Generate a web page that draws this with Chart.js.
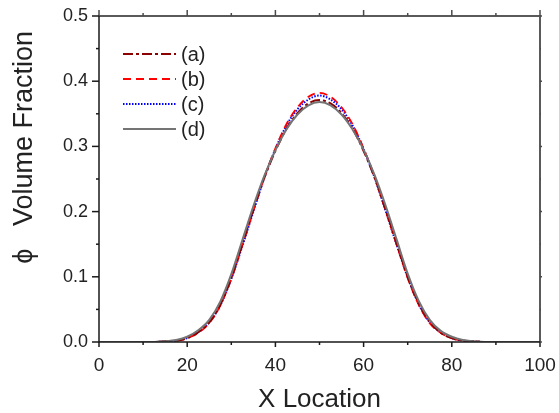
<!DOCTYPE html>
<html lang="en">
<head>
  <meta charset="UTF-8">
  <title>Volume Fraction vs X Location</title>
  <script src="https://cdn.jsdelivr.net/npm/chart.js"></script>
  <style>
    html, body {
      margin: 0;
      padding: 0;
      background: #ffffff;
    }
    .chart-container {
      position: relative;
      width: 559px;
      height: 413px;
    }
  </style>
</head>
<body>

<div class="chart-container"><canvas id="phiChart"></canvas></div>

<script>
  // x positions (shared by all four profiles)
  const xLoc = [0, 2.5, 5, 7.5, 10, 12.5, 15, 17.5, 20, 22.5, 25, 27.5, 30, 32.5, 35, 37.5, 40, 42.5, 45, 47.5,
                50, 52.5, 55, 57.5, 60, 62.5, 65, 67.5, 70, 72.5, 75, 77.5, 80, 82.5, 85, 87.5, 90, 92.5, 95, 97.5, 100];

  // volume fraction
  const phiA = [0, 0, 0, 0, 0, 0, 0.001, 0.002, 0.006, 0.015, 0.030, 0.057, 0.098, 0.150, 0.203, 0.252, 0.293, 0.327, 0.351, 0.366,
                0.371, 0.366, 0.351, 0.327, 0.293, 0.252, 0.203, 0.151, 0.100, 0.059, 0.031, 0.014, 0.006, 0.002, 0.001, 0, 0, 0, 0, 0, 0];
  const phiB = [0, 0, 0, 0, 0, 0, 0.001, 0.002, 0.006, 0.014, 0.029, 0.056, 0.097, 0.148, 0.201, 0.253, 0.297, 0.334, 0.360, 0.376,
                0.382, 0.376, 0.360, 0.334, 0.297, 0.253, 0.201, 0.149, 0.098, 0.057, 0.029, 0.014, 0.006, 0.002, 0.001, 0, 0, 0, 0, 0, 0];
  const phiC = [0, 0, 0, 0, 0, 0, 0.001, 0.002, 0.006, 0.015, 0.030, 0.056, 0.097, 0.147, 0.200, 0.252, 0.296, 0.332, 0.357, 0.372,
                0.378, 0.372, 0.357, 0.332, 0.296, 0.252, 0.201, 0.149, 0.099, 0.058, 0.030, 0.015, 0.006, 0.002, 0.001, 0, 0, 0, 0, 0, 0];
  const phiD = [0, 0, 0, 0, 0, 0, 0.001, 0.003, 0.008, 0.018, 0.034, 0.062, 0.104, 0.156, 0.208, 0.255, 0.294, 0.326, 0.349, 0.363,
                0.368, 0.363, 0.349, 0.326, 0.295, 0.256, 0.209, 0.157, 0.105, 0.063, 0.034, 0.017, 0.008, 0.003, 0.001, 0, 0, 0, 0, 0, 0];

  const seriesLabels = ['(a)', '(b)', '(c)', '(d)'];
  const xTicks = [0, 20, 40, 60, 80, 100];
  const yTicks = [0.0, 0.1, 0.2, 0.3, 0.4, 0.5];

  const FONT = "'Liberation Sans', Arial, Helvetica, sans-serif";
  const toPoints = ys => xLoc.map((x, i) => ({ x, y: ys[i] }));

  // frame, inner/outer ticks and the line legend
  const framePlugin = {
    id: 'frame',
    afterDraw(chart) {
      const { ctx, chartArea: a, scales } = chart;
      const xs = scales.x, ys = scales.y;
      ctx.save();

      // top and right borders (grey)
      ctx.strokeStyle = '#5a5a5a';
      ctx.lineWidth = 2;
      ctx.beginPath();
      ctx.moveTo(a.left, a.top);
      ctx.lineTo(a.right, a.top);
      ctx.lineTo(a.right, a.bottom);
      ctx.stroke();

      // left and bottom axes (black)
      ctx.strokeStyle = '#1a1a1a';
      ctx.lineWidth = 1.5;
      ctx.beginPath();
      ctx.moveTo(a.left, a.top);
      ctx.lineTo(a.left, a.bottom);
      ctx.lineTo(a.right, a.bottom);
      ctx.stroke();

      // x ticks every 10, major every 20
      ctx.lineWidth = 1.5;
      for (let v = 0; v <= 100; v += 10) {
        const px = xs.getPixelForValue(v);
        const major = v % 20 === 0;
        ctx.strokeStyle = '#1a1a1a';
        ctx.beginPath();
        ctx.moveTo(px, a.bottom);
        ctx.lineTo(px, a.bottom + (major ? 5 : 3));
        ctx.stroke();
        ctx.strokeStyle = '#4a4a4a';
        ctx.beginPath();
        ctx.moveTo(px, a.top);
        ctx.lineTo(px, a.top - (major ? 6 : 3));
        ctx.stroke();
      }

      // y ticks every 0.05, major every 0.1
      for (let k = 0; k <= 10; k++) {
        const py = ys.getPixelForValue(k * 0.05);
        const major = k % 2 === 0;
        ctx.strokeStyle = '#1a1a1a';
        ctx.beginPath();
        ctx.moveTo(a.left, py);
        ctx.lineTo(a.left - (major ? 7 : 3), py);
        ctx.stroke();
        ctx.strokeStyle = '#4a4a4a';
        ctx.beginPath();
        ctx.moveTo(a.right, py);
        ctx.lineTo(a.right + (major ? 2 : 1), py);
        ctx.stroke();
      }

      // legend with line samples
      const lx0 = 123, lx1 = 176, rowY = [54, 79, 104, 129];
      chart.data.datasets.forEach((ds, i) => {
        const y = rowY[i];
        ctx.strokeStyle = ds.borderColor;
        ctx.lineWidth = ds.borderWidth;
        ctx.setLineDash(ds.borderDash || []);
        ctx.beginPath();
        ctx.moveTo(lx0, y);
        ctx.lineTo(lx1, y);
        ctx.stroke();
        ctx.setLineDash([]);
        ctx.fillStyle = '#222';
        ctx.font = '20px ' + FONT;
        ctx.textAlign = 'left';
        ctx.textBaseline = 'middle';
        ctx.fillText(ds.label, 181, y + 1);
      });

      ctx.restore();
    }
  };

  const lineSet = (label, ys, color, width, dash, order) => ({
    label,
    data: toPoints(ys),
    borderColor: color,
    backgroundColor: color,
    borderWidth: width,
    borderDash: dash,
    showLine: true,
    pointRadius: 0,
    cubicInterpolationMode: 'monotone',
    order
  });

  new Chart(document.getElementById('phiChart').getContext('2d'), {
    type: 'scatter',
    data: {
      datasets: [
        lineSet(seriesLabels[0], phiA, '#8b0000', 2, [10, 3, 3, 3], 1),
        lineSet(seriesLabels[1], phiB, '#ff0000', 1.8, [8, 5], 2),
        lineSet(seriesLabels[2], phiC, '#0000ff', 2, [1.5, 1.5], 3),
        lineSet(seriesLabels[3], phiD, '#747474', 2, [], 0)
      ]
    },
    options: {
      responsive: true,
      maintainAspectRatio: false,
      animation: false,
      events: [],
      layout: { padding: { top: 16, right: 19, left: 0, bottom: 0 } },
      plugins: {
        legend: { display: false },
        tooltip: { enabled: false }
      },
      scales: {
        x: {
          type: 'linear',
          min: 0,
          max: 100,
          afterFit(scale) {
            scale.height = 71;
            scale.paddingLeft = 0;
            scale.paddingRight = 0;
          },
          afterBuildTicks(scale) { scale.ticks = xTicks.map(v => ({ value: v })); },
          grid: { display: false, drawTicks: false },
          border: { display: false },
          ticks: {
            color: '#222',
            padding: 12,
            font: { family: FONT, size: 19 },
            maxRotation: 0
          },
          title: {
            display: true,
            text: 'X Location',
            color: '#222',
            font: { family: FONT, size: 26, lineHeight: 1 },
            padding: { top: 0, bottom: 0 }
          }
        },
        y: {
          type: 'linear',
          min: 0,
          max: 0.5,
          afterFit(scale) {
            scale.width = 99;
            scale.paddingTop = 0;
            scale.paddingBottom = 0;
          },
          afterBuildTicks(scale) { scale.ticks = yTicks.map(v => ({ value: v })); },
          grid: { display: false, drawTicks: false },
          border: { display: false },
          ticks: {
            color: '#222',
            padding: 11,
            font: { family: FONT, size: 18 },
            callback: v => v.toFixed(1)
          },
          title: {
            display: true,
            text: '\u03D5   Volume Fraction  ',
            align: 'end',
            color: '#222',
            font: { family: FONT, size: 27, lineHeight: 1 },
            padding: { top: 11, bottom: 0 }
          }
        }
      }
    },
    plugins: [framePlugin]
  });
</script>

</body>
</html>
